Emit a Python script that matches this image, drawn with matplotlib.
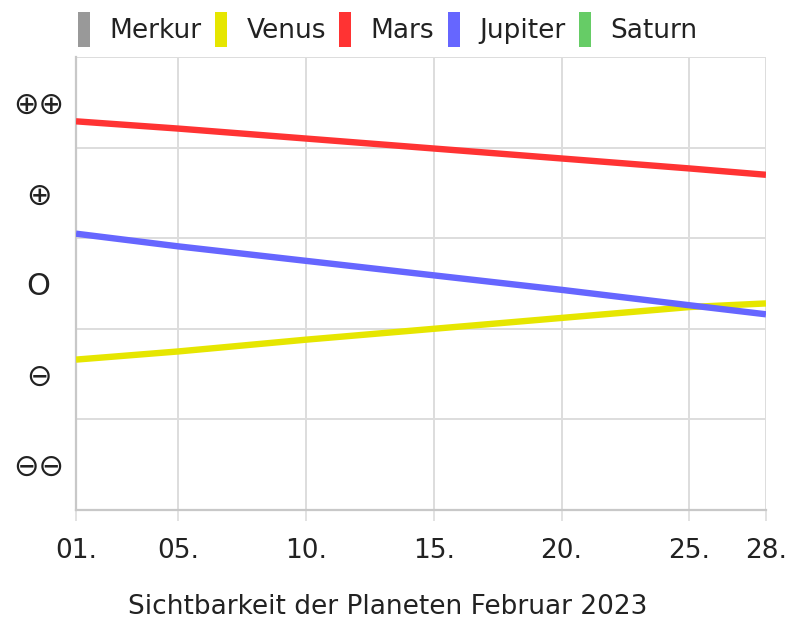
import matplotlib
matplotlib.use('Agg')
import matplotlib.pyplot as plt
from matplotlib.patches import Patch

# Sichtbarkeit der Planeten, Februar 2023
tage = [1, 5, 10, 15, 20, 25, 28]
tick_tage = [1, 5, 10, 15, 20, 25, 28]
tick_labels = ['01.', '05.', '10.', '15.', '20.', '25.', '28.']

stufen_pos = [0.5, 1.5, 2.5, 3.5, 4.5]
stufen_labels = ['⊖⊖', '⊖', 'O', '⊕', '⊕⊕']

planeten = ['Merkur', 'Venus', 'Mars', 'Jupiter', 'Saturn']
farben = ['#999999', '#e6e600', '#ff3333', '#6666ff', '#66cc66']

venus = [1.66, 1.75, 1.88, 2.00, 2.12, 2.24, 2.28]
mars = [4.29, 4.21, 4.10, 3.99, 3.88, 3.77, 3.70]
jupiter = [3.05, 2.91, 2.75, 2.59, 2.43, 2.26, 2.16]

plt.rcParams['font.family'] = ['DejaVu Sans']

fig = plt.figure(figsize=(7.87, 6.2), dpi=100)
ax = fig.add_axes([76 / 787, 110 / 620, 690 / 787, 453 / 620])

ax.plot(tage, venus, color=farben[1], linewidth=4.6, solid_capstyle='butt', zorder=3)
ax.plot(tage, mars, color=farben[2], linewidth=4.6, solid_capstyle='butt', zorder=3)
ax.plot(tage, jupiter, color=farben[3], linewidth=4.6, solid_capstyle='butt', zorder=3)

ax.set_xlim(1, 28)
ax.set_ylim(0, 5)

# Gitter an den Stufengrenzen, Beschriftung in der Mitte
ax.set_yticks([1, 2, 3, 4, 5])
ax.set_yticklabels([])
ax.set_yticks(stufen_pos, minor=True)
ax.set_yticklabels(stufen_labels, minor=True, fontsize=22, color='#222222', ha='center')
ax.tick_params(axis='y', which='both', length=0, pad=27)

ax.set_xticks(tick_tage)
ax.set_xticklabels(tick_labels, fontsize=19, color='#222222')
ax.tick_params(axis='x', length=8, width=1.2, color='#dddddd', pad=12)

ax.grid(True, which='major', color='#dddddd', linewidth=1.4)
ax.set_axisbelow(True)

for s in ['top', 'right']:
    ax.spines[s].set_visible(False)
for s in ['left', 'bottom']:
    ax.spines[s].set_color('#c8c8c8')
    ax.spines[s].set_linewidth(1.6)

handles = [Patch(facecolor=c, edgecolor='none') for c in farben]
fig.legend(handles, planeten, loc='upper left', bbox_to_anchor=(62 / 787, 1.0 + 4 / 620),
           ncol=5, frameon=False, fontsize=19, handlelength=0.45, handleheight=1.7,
           handletextpad=0.75, columnspacing=0.5, borderaxespad=0.2,
           labelcolor='#222222')

fig.text(388 / 787, 13 / 620, 'Sichtbarkeit der Planeten Februar 2023',
         ha='center', va='center', fontsize=19, color='#222222')

fig.savefig('out.png', dpi=100)
